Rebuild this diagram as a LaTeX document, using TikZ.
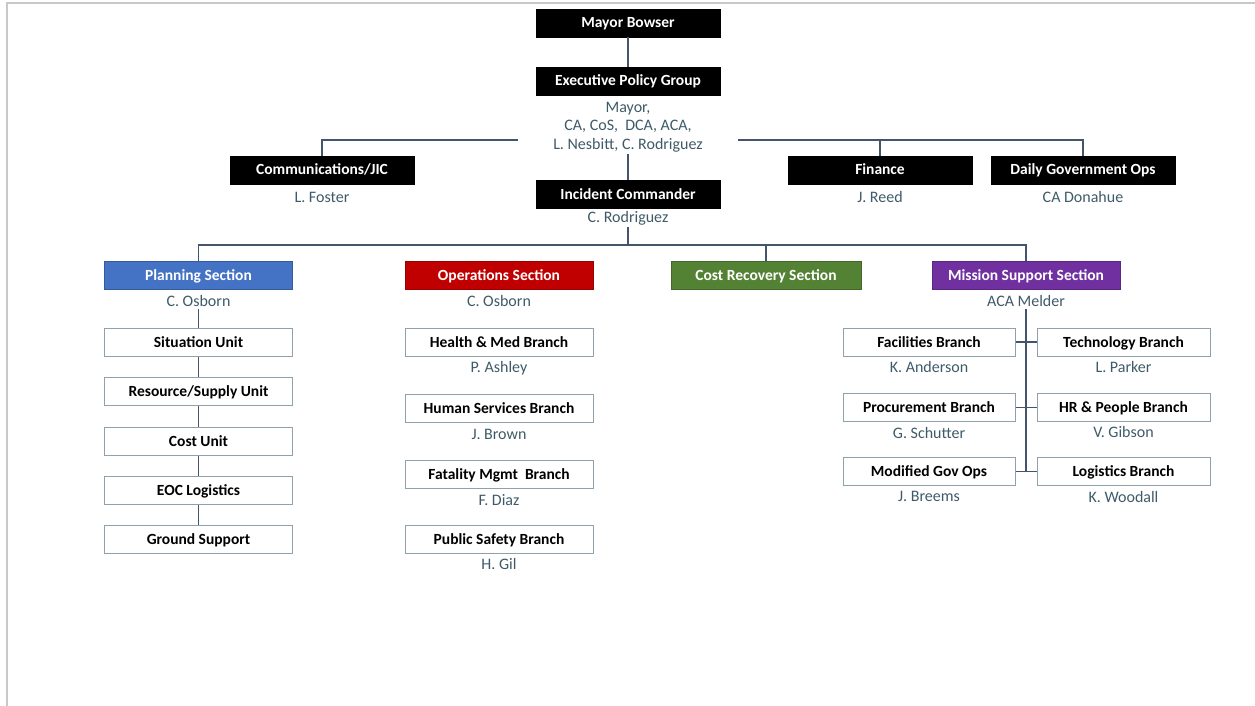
\documentclass[tikz,border=0pt]{standalone}
\usepackage{fontspec}
\setmainfont{Carlito}
\definecolor{namec}{HTML}{3E5A68}
\definecolor{linec}{HTML}{44546A}
\definecolor{boxline}{HTML}{8FA2AC}
\definecolor{framec}{HTML}{C8C8C8}
\definecolor{planc}{HTML}{4472C4}
\definecolor{opsc}{HTML}{C00000}
\definecolor{costc}{HTML}{548235}
\definecolor{msc}{HTML}{7030A0}
\begin{document}
\begin{tikzpicture}[x=1pt,y=-1pt,
  boxfont/.style={font=\bfseries\fontsize{15.5}{18}\selectfont, text height=10pt, text depth=0pt},
  blk/.style={boxfont, draw=black, fill=black, text=white, minimum width=184pt, minimum height=28pt, inner sep=0pt},
  sect/.style={boxfont, draw=#1!80!black, fill=#1, text=white, minimum width=188pt, minimum height=28pt, inner sep=0pt},
  unit/.style={boxfont, draw=boxline, fill=white, text=black, line width=1pt, minimum width=188pt, minimum height=28pt, inner sep=0pt},
  munit/.style={unit, minimum width=172pt},
  who/.style={font=\fontsize{16}{18.5}\selectfont, text=namec, align=center, inner sep=2pt},
  conn/.style={draw=linec, line width=1.6pt}]
\useasboundingbox (0,0) rectangle (1255,706);
\draw[framec, line width=1.5pt] (7,706) -- (7,3) -- (1255,3);

% top
\node[blk] (mayor) at (628,23) {Mayor Bowser};
\node[blk] (epg) at (628,81) {Executive Policy Group};
\node[who] (epgnames) at (628,127) {Mayor,\\CA, CoS,\ \ DCA, ACA,\\L. Nesbitt, C. Rodriguez};
\node[blk] (comms) at (322,170) {Communications/JIC};
\node[who] (commsnames) at (322,197) {L. Foster};
\node[blk] (fin) at (880,170) {Finance};
\node[who] (finnames) at (880,197) {J. Reed};
\node[blk] (daily) at (1083,170) {Daily Government Ops};
\node[who] (dailynames) at (1083,197) {CA Donahue};
\node[blk] (ic) at (628,194) {Incident Commander};
\node[who] (icnames) at (628,218) {C. Rodriguez};

\coordinate (hl) at (518,140);
\coordinate (hr) at (738,140);
\coordinate (bus) at (628,245);

\draw[conn] (mayor.south) -- (epg.north);
\draw[conn] (hl) -| (comms.north);
\draw[conn] (hr) -| (daily.north);
\draw[conn] (fin.north) -- (fin.north |- hr);
\draw[conn] (epgnames.south) -- (ic.north);

% sections
\node[sect=planc] (plan) at (198.5,275) {Planning Section};
\node[who] (plannames) at (198.5,301) {C. Osborn};
\node[sect=opsc] (ops) at (499,275) {Operations Section};
\node[who] (opsnames) at (499,301) {C. Osborn};
\node[sect=costc, minimum width=190pt] (cost) at (766,275) {Cost Recovery Section};
\node[sect=msc] (ms) at (1026,275) {Mission Support Section};
\node[who] (msnames) at (1026,301) {ACA Melder};

\draw[conn] (icnames.south) -- (bus);
\draw[conn] (plan.north) |- (ms.north |- bus) -- (ms.north);
\draw[conn] (cost.north) -- (cost.north |- bus);

% planning units
\node[unit] (sit) at (198.5,342) {Situation Unit};
\node[unit] (res) at (198.5,391) {Resource/Supply Unit};
\node[unit] (cu) at (198.5,441) {Cost Unit};
\node[unit] (eoc) at (198.5,490) {EOC Logistics};
\node[unit] (gs) at (198.5,539) {Ground Support};
\draw[conn] (plannames.south) -- (sit.north);
\draw[conn] (sit.south) -- (res.north);
\draw[conn] (res.south) -- (cu.north);
\draw[conn] (cu.south) -- (eoc.north);
\draw[conn] (eoc.south) -- (gs.north);

% operations branches
\node[unit] (hm) at (499,342) {Health \& Med Branch};
\node[who] at (499,368) {P. Ashley};
\node[unit] (hs) at (499,408) {Human Services Branch};
\node[who] at (499,434) {J. Brown};
\node[unit] (fm) at (499,474) {Fatality Mgmt\ \ Branch};
\node[who] at (499,500) {F. Diaz};
\node[unit] (ps) at (499,539) {Public Safety Branch};
\node[who] at (499,564) {H. Gil};

% mission support branches
\node[munit] (fac) at (929,342) {Facilities Branch};
\node[who] at (929,367) {K. Anderson};
\node[munit] (proc) at (929,407.5) {Procurement Branch};
\node[who] at (929,433) {G. Schutter};
\node[munit] (mod) at (929,471.5) {Modified Gov Ops};
\node[who] at (929,496) {J. Breems};
\node[munit, minimum width=173pt] (tech) at (1123.5,342) {Technology Branch};
\node[who] at (1123.5,367) {L. Parker};
\node[munit, minimum width=173pt] (hr) at (1123.5,407.5) {HR \& People Branch};
\node[who] at (1123.5,432) {V. Gibson};
\node[munit, minimum width=173pt] (log) at (1123.5,471.5) {Logistics Branch};
\node[who] at (1123.5,497) {K. Woodall};

\draw[conn] (msnames.south) -- (msnames.south |- mod.east);
\draw[conn] (fac.east) -- (tech.west);
\draw[conn] (proc.east) -- (hr.west);
\draw[conn] (mod.east) -- (log.west);
\end{tikzpicture}
\end{document}
